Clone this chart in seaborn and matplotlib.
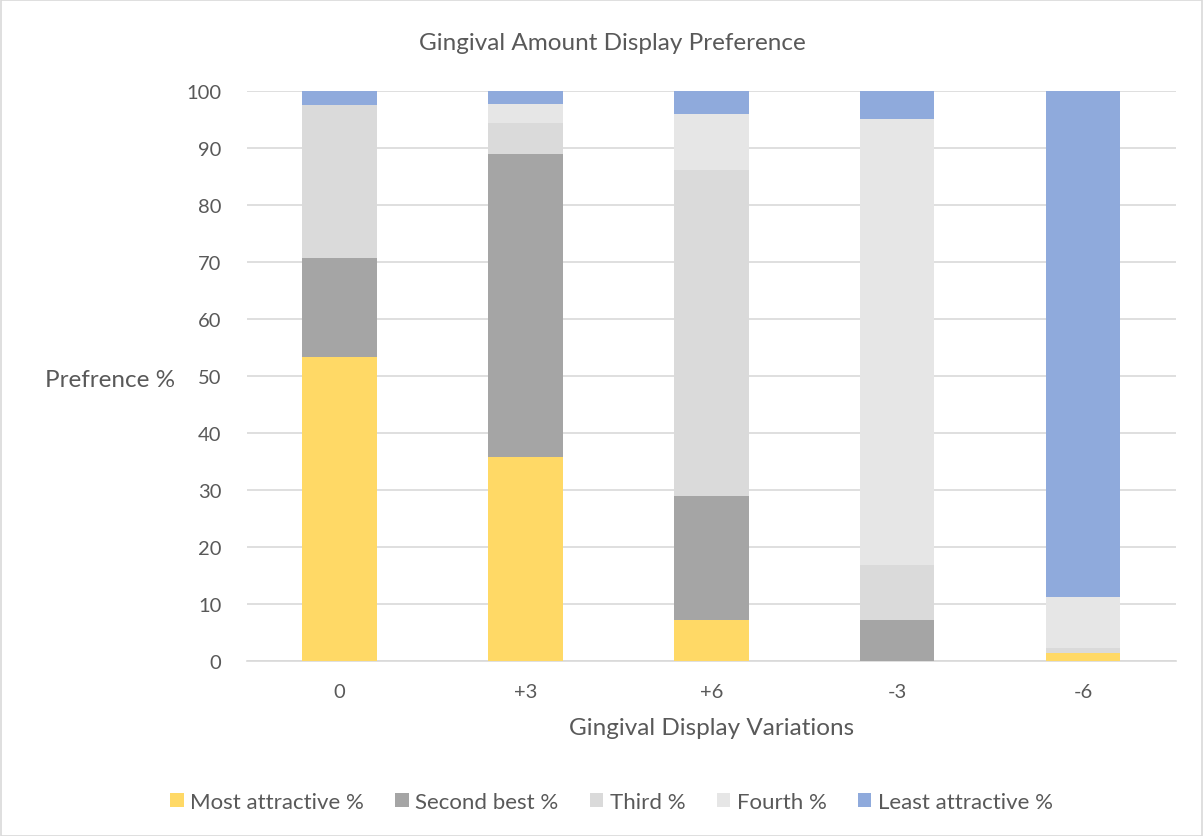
import matplotlib
matplotlib.use("Agg")
import matplotlib.pyplot as plt
from matplotlib.patches import Patch, Rectangle
import numpy as np
import pandas as pd
import seaborn as sns

# Gingival display variations (x categories)
variations = ["0", "+3", "+6", "-3", "-6"]

# Ranking shares per variation, in percent
most_attractive = [53.3, 35.8, 7.2, 0.0, 1.5]
second_best = [17.5, 53.1, 21.7, 7.2, 0.0]
third = [26.7, 5.5, 57.2, 9.6, 0.8]
fourth = [0.0, 3.3, 9.9, 78.3, 8.9]
least_attractive = [2.5, 2.3, 4.0, 4.9, 88.8]

series_names = ["Most attractive %", "Second best %", "Third %", "Fourth %", "Least attractive %"]
series_values = [most_attractive, second_best, third, fourth, least_attractive]
series_colors = ["#FFD966", "#A5A5A5", "#DADADA", "#E6E6E6", "#8FAADC"]

sns.set_theme(style="white")
plt.rcParams["font.family"] = ["Lato", "DejaVu Sans"]
text_color = "#595959"

fig = plt.figure(figsize=(12.03, 8.37), dpi=100)
ax = fig.add_axes([0.205, 0.209, 0.7726, 0.681])

# Stacked bars: draw cumulative totals from the top segment down
cumulative = np.cumsum(np.array(series_values), axis=0)
for i in reversed(range(len(series_names))):
    df = pd.DataFrame({"variation": variations, "value": cumulative[i]})
    sns.barplot(data=df, x="variation", y="value", color=series_colors[i],
                width=0.4, saturation=1, ax=ax, zorder=3, linewidth=0)

ax.set_ylim(0, 100)
ax.set_xlim(-0.5, len(variations) - 0.5)
ax.set_yticks(np.arange(0, 101, 10))
ax.yaxis.grid(True, color="#D9D9D9", linewidth=1.2, zorder=0)
ax.xaxis.grid(False)
for s in ["top", "right", "left"]:
    ax.spines[s].set_visible(False)
ax.spines["bottom"].set_color("#D9D9D9")
ax.spines["bottom"].set_linewidth(1.2)
ax.tick_params(axis="both", length=0, labelsize=14.5, colors=text_color)
ax.tick_params(axis="x", pad=16)
ax.tick_params(axis="y", pad=18)

ax.set_xlabel("Gingival Display Variations", fontsize=17.5, color=text_color, labelpad=12)
ax.set_ylabel("")
fig.text(45 / 1203, 1 - 381 / 837, "Prefrence %", fontsize=17.5, color=text_color,
         ha="left", va="center")

fig.text(612 / 1203, 1 - 44 / 837, "Gingival Amount Display Preference", fontsize=17.5,
         color=text_color, ha="center", va="center")

handles = [Patch(facecolor=c, edgecolor="none", label=n) for n, c in zip(series_names, series_colors)]
fig.legend(handles=handles, loc="center", bbox_to_anchor=(611.5 / 1203, 1 - 803 / 837), ncol=5,
           frameon=False, fontsize=16, handlelength=0.6, handleheight=0.6,
           handletextpad=0.3, columnspacing=1.4, labelcolor=text_color)

# Chart frame
fig.patches.append(Rectangle((0.5 / 1203, 0.5 / 837), 1 - 1.5 / 1203, 1 - 1.5 / 837,
                             transform=fig.transFigure, fill=False,
                             edgecolor="#D9D9D9", linewidth=1.2))

fig.savefig("out.png", dpi=100, facecolor="white")
